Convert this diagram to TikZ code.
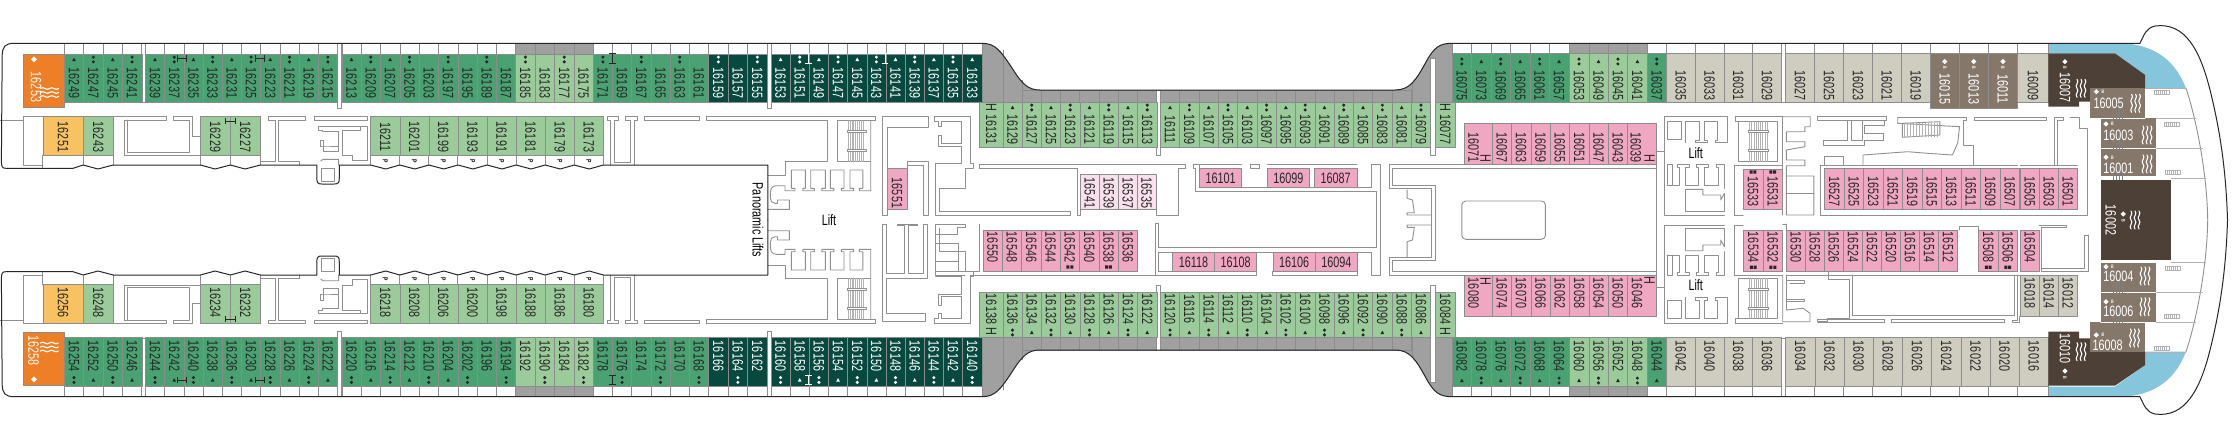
\documentclass[tikz,border=0pt]{standalone}
\usepackage{fontspec}
\setmainfont[FakeStretch=0.72]{Liberation Sans}
\usepackage{tikz}
\definecolor{grnM}{HTML}{4AA273}
\definecolor{grnL}{HTML}{9CCB9B}
\definecolor{tealD}{HTML}{07493F}
\definecolor{orng}{HTML}{EE7F26}
\definecolor{yelw}{HTML}{F8C262}
\definecolor{pinkC}{HTML}{F0A7C2}
\definecolor{pinkP}{HTML}{F8E0EC}
\definecolor{beigeC}{HTML}{CFCCC0}
\definecolor{brownB}{HTML}{85786B}
\definecolor{brownD}{HTML}{4C4037}
\definecolor{blueW}{HTML}{85C6DD}
\definecolor{deckG}{HTML}{A0A0A0}
\definecolor{wallG}{HTML}{8F8F8F}
\tikzset{
  hull/.style={draw=black!85,line width=1},
  wall/.style={draw=wallG,line width=0.9},
  thinwall/.style={draw=black!30,line width=0.35},
  cabin/.style={draw=black!45,line width=0.5},
  cabtxt/.style={rotate=-90,text=\mkcol,inner sep=0,font=\fontsize{15}{15}\selectfont},
  flattxt/.style={text=\mkcol,inner sep=0,font=\fontsize{15}{15}\selectfont},
  tagp/.style={rotate=-90,inner sep=0,font=\fontsize{7}{7}\selectfont\bfseries},
  liftlab/.style={inner sep=0,font=\fontsize{15}{15}\selectfont},
  spawave/.pic={\foreach \wv in {-4,0,4}{\draw[draw=white,line width=1.1] (\wv,-9) .. controls (\wv+3,-6) and (\wv-3,-3) .. (\wv,0) .. controls (\wv+3,3) and (\wv-3,6) .. (\wv,9);}}
}
\def\mkcol{black!85}
\newcommand{\tagn}[2]{}
\newcommand{\tagt}[2]{\fill[\mkcol] (#1-1.9,#2+1.6) -- (#1+1.9,#2+1.6) -- (#1,#2-1.9) -- cycle;}
\newcommand{\tagd}[2]{\fill[\mkcol] (#1,#2-2.4) circle (1.7) (#1,#2+2.4) circle (1.7);}
\newcommand{\tags}[2]{\fill[\mkcol] (#1-3.4,#2-1.6) rectangle (#1-0.4,#2+1.6) (#1+0.4,#2-1.6) rectangle (#1+3.4,#2+1.6);}
\newcommand{\tagh}[2]{\node[cabtxt] at (#1,#2) {H};}
\newcommand{\cabinrow}[8]{
  \foreach \lab/\mk [count=\i from 0] in {#8} {
    \pgfmathsetmacro{\xa}{#1+\i*#2}
    \pgfmathsetmacro{\xb}{\xa+#2}
    \pgfmathsetmacro{\xc}{\xa+#2/2}
    \path[cabin,#5] (\xa,#3) rectangle (\xb,#4);
    \node[cabtxt] (c\lab) at (\xc,#6) {\lab};
    \csname tag\mk\endcsname{\xc}{#7}
  }
}
\newcommand{\cabinflat}[5]{
  \path[cabin,fill=pinkC] (#1,#3) rectangle (#2,#4);
  \node[flattxt] (c#5) at ({(#1+#2)/2},{(#3+#4)/2}) {#5};
}
\newcommand{\cabinside}[7]{
  \path[cabin,fill=pinkC] (#1,#3) rectangle (#2,#4);
  \node[cabtxt] (c#7) at (#5,#6) {#7};
}
\newcommand{\deckstrip}[6]{
  \foreach \i in {1,...,#3} {
    \path[cabin,fill=#6] ({#1+(\i-1)*#2},#4) rectangle ({#1+\i*#2},#5);
  }
}
\newcommand{\stairhatch}[4]{
  \foreach \s in {0,...,8} {
    \draw[thinwall] ({#1+\s*(#2-#1)/8},#3) -- ({#1+\s*(#2-#1)/8},#4);
  }
}
\newcommand{\smallhatch}[2]{
  \draw[thinwall] (#1,#2) rectangle (#1+15,#2+4);
  \foreach \s in {1,...,6} {\draw[thinwall] (#1+\s*2.1,#2) -- (#1+\s*2.1,#2+4);}
}
\newcommand{\suitemark}[2]{
  \fill[white] (#1-2.6,#2) -- (#1,#2-2.6) -- (#1+2.6,#2) -- (#1,#2+2.6) -- cycle;
  \node[inner sep=0,text=white,font=\fontsize{5}{5}\selectfont\bfseries] at (#1+6.5,#2) {B};
}
\newcommand{\suitemarkv}[2]{
  \fill[white] (#1-2.6,#2) -- (#1,#2-2.6) -- (#1+2.6,#2) -- (#1,#2+2.6) -- cycle;
  \node[inner sep=0,rotate=-90,text=white,font=\fontsize{5}{5}\selectfont\bfseries] at (#1,#2+6.5) {B};
}
\newcommand{\elevroom}{
  \draw[wall] (934.3,116.7)--(970.7,116.7)--(970.7,163.3)--(973.2,163.3)--(973.2,168.3)--(965.4,168.3)--(965.4,188.3)--(939.3,188.3)--(939.3,211.7);
  \draw[wall] (934.3,116.7)--(934.3,121.7)--(938,121.7)--(938,126.7)--(941.4,126.7)--(941.4,121.7)--(961.8,121.7)--(961.8,143.3)--(941.4,143.3)--(941.4,135)--(938,135)--(938,146)--(961.8,146)--(961.8,163.3)--(935.7,163.3);
}
\newcommand{\halfdeck}{
  \fill[deckG] (981.8,43.3) .. controls (995,43.3) and (1000,50) .. (1012,68) .. controls (1022,84) and (1028,90) .. (1040,90) -- (1395,90) .. controls (1410,90) and (1416,80) .. (1426,62) .. controls (1434,47) and (1440,43.3) .. (1452,43.3) -- (1452,102.3) -- (979.6,102.3) -- cycle;
  \fill[blueW] (2048.4,43.3) -- (2125,43.3) .. controls (2155,46) and (2175,60) .. (2186,88.3) -- (2145.2,88.3) -- (2145.2,75) -- (2114.9,53.3) -- (2048.4,53.3) -- cycle;
  \deckstrip{64.3}{19.37}{4}{43.3}{54}{white}
  \deckstrip{145.4}{19.21}{10}{43.3}{54}{white}
  \deckstrip{341.8}{19.33}{9}{43.3}{54}{white}
  \deckstrip{515.7}{19.4}{4}{43.3}{54}{deckG}
  \deckstrip{593.3}{19.2}{6}{43.3}{54}{white}
  \deckstrip{708.6}{19.5}{3}{43.3}{54}{white}
  \deckstrip{771}{19.16}{11}{43.3}{54}{white}
  \deckstrip{1021.8}{19.24}{7}{90}{102.3}{deckG}
  \deckstrip{1160.4}{19.3}{13}{90}{102.3}{deckG}
  \deckstrip{1452.1}{19.45}{6}{43.3}{53.3}{white}
  \deckstrip{1569.3}{19.45}{4}{43.3}{53.3}{deckG}
  \deckstrip{1647.1}{19.3}{1}{43.3}{53.3}{white}
  \deckstrip{1666.4}{28.75}{4}{43.3}{53.3}{white}
  \deckstrip{1785.6}{28.92}{5}{43.3}{53.3}{white}
  \deckstrip{1930.2}{29.07}{3}{43.3}{53.3}{white}
  \deckstrip{2017.4}{31}{1}{43.3}{53.3}{white}
  \draw[cabin] (1002.9,50)--(1002.9,102.3) (1021.8,80)--(1021.8,90) (1411.8,83)--(1411.8,102.3);
  \path[wall,fill=white] (141.8,43.3) rectangle (145.4,102);
  \path[wall,fill=white] (337.5,43.3) rectangle (341.8,108.3);
  \path[wall,fill=white] (767.1,43.3) rectangle (771,108.3);
  \path[wall,fill=white] (1156.8,90) rectangle (1160.4,155);
  \path[wall,fill=white] (1430.7,58) rectangle (1435,155);
  \path[wall,fill=white] (1781.3,43.3) rectangle (1785.6,102);
  \draw[wall] (0,120)--(23.2,120);
  \draw[wall] (42.9,116.7)--(23.2,116.7)--(23.2,165)--(42.9,165);
  \draw[wall] (42.9,155)--(42.9,168.3) (83.2,155)--(83.2,165) (113.2,155)--(113.2,165);
  \draw[wall] (200.4,155)--(200.4,165) (230.4,155)--(230.4,165) (260.4,155)--(260.4,165);
  \foreach \i in {0,...,8} {\draw[wall] (370.7+\i*29.08,155)--(370.7+\i*29.08,165);}
  \draw[wall] (114.3,116.7)--(166,116.7)--(166,120)--(124.3,120)--(124.3,155)--(200.4,155);
  \draw[wall] (127.9,120)--(127.9,152.3)--(189.3,152.3)--(189.3,120)--(173.2,120)--(173.2,116.7)--(192.9,116.7)--(192.9,136.7)--(200.4,136.7);
  \draw[wall] (260.4,155)--(260.4,161.7)--(275,161.7)--(275,120)--(268.9,120)--(268.9,116.7)--(305.4,116.7)--(305.4,120)--(278.6,120)--(278.6,161.7)--(299.3,161.7)--(299.3,165);
  \draw[wall] (314.3,116.7) rectangle (367.9,120);
  \draw[wall] (377.1,116.7)--(377.1,126.7)--(370.7,126.7);
  \draw[wall] (318.9,126.7)--(360.7,126.7)--(360.7,130)--(342,130)--(342,155)--(352.9,155)--(352.9,160.7)--(367.9,160.7)--(367.9,126.7)--(360.7,126.7);
  \draw[wall] (318.9,126.7)--(318.9,130)--(322,130)--(322,131.7)--(338.6,131.7)--(338.6,151.7)--(323,151.7)--(323,140)--(320.7,140)--(320.7,146)--(323,146)--(338.6,146);
  \draw[wall] (320.7,161)--(323,159.3)--(338.6,159.3)--(338.6,165);
  \draw[wall] (321.4,168.3) rectangle (334.6,181.7);
  \draw[wall] (607.5,116.7)--(618.9,116.7)--(618.9,120)--(614,120)--(614,162.7)--(630.7,162.7)--(630.7,120)--(625.4,120)--(625.4,116.7)--(637.9,116.7)--(637.9,120)--(634.3,120)--(634.3,165);
  \draw[wall] (607.5,116.7)--(607.5,120)--(610,120)--(610,165);
  \draw[wall] (644.6,116.7) rectangle (699.3,120);
  \draw[wall] (706.4,116.7)--(875,116.7)--(875,120.7)--(837.5,120.7)--(837.5,161.7)--(870.7,161.7);
  \draw[wall] (706.4,116.7)--(706.4,120.7)--(827.9,120.7)--(827.9,161.7)--(785,161.7)--(785,175)--(767.9,175);
  \draw[wall] (870.7,120.7)--(870.7,190.7)--(859.3,190.7)--(859.3,188.3)--(862.9,188.3)--(862.9,170)--(850,170)--(850,188.3)--(853.6,188.3)--(853.6,190.7)--(841.4,190.7)--(841.4,188.3)--(844,188.3)--(844,170)--(830.4,170)--(830.4,188.3)--(833.9,188.3)--(833.9,190.7)--(821.8,190.7)--(821.8,188.3)--(825.4,188.3)--(825.4,170)--(810.7,170)--(810.7,188.3)--(814.3,188.3)--(814.3,190.7)--(802.9,190.7)--(802.9,188.3)--(805.4,188.3)--(805.4,170)--(791.4,170)--(791.4,188.3)--(795,188.3)--(795,190.7)--(785,190.7)--(785,185.7)--(776,185.7) .. controls (772,186) and (770.4,189) .. (770.4,193)--(770.4,198) .. controls (770.4,201) and (772,203.3) .. (775,203.3)--(777.5,203.3)--(777.5,200)--(789.3,200)--(789.3,209.3)--(767.9,209.3);
  \stairhatch{847.9}{863.2}{120.7}{161.7}
  \draw[wall,fill=white] (847,130.7) rectangle (866.8,132.5) (847,149.5) rectangle (866.8,151.3);
  \draw[wall] (1664.3,116.7)--(1664.3,215)--(1724.3,215);
  \draw[wall] (1664.3,116.7)--(1727.9,116.7)--(1727.9,142.7)--(1715.4,142.7)--(1715.4,140)--(1717.9,140)--(1717.9,121.7)--(1704.6,121.7)--(1704.6,140)--(1707.5,140)--(1707.5,142.7)--(1695.7,142.7)--(1695.7,140)--(1699.3,140)--(1699.3,121.7)--(1685,121.7)--(1685,142.7);
  \draw[wall] (1667.9,121.7) rectangle (1681.4,139.3);
  \draw[wall] (1667.1,185)--(1667.1,164.3)--(1672,164.3)--(1672,185);
  \draw[wall] (1667.1,185)--(1679.6,185)--(1679.6,167.3)--(1677,167.3)--(1677,164.3)--(1689.3,164.3)--(1689.3,167.3)--(1685.7,167.3)--(1685.7,185)--(1698.6,185)--(1698.6,167.3)--(1696.4,167.3)--(1696.4,164.3)--(1708.9,164.3)--(1708.9,167.3)--(1704.6,167.3)--(1704.6,185)--(1718.9,185)--(1718.9,167.3)--(1716.4,167.3)--(1716.4,164.3)--(1724.3,164.3)--(1724.3,188.3);
  \draw[wall] (1685.7,189.3)--(1702.9,189.3)--(1702.9,195)--(1720.7,195)--(1720.7,200)--(1724.3,193.3);
  \draw[wall] (1685.7,189.3)--(1685.7,211.7)--(1724.3,211.7)--(1724.3,193.3);
  \draw[wall] (1735,116.7)--(1782.7,116.7);
  \draw[wall] (1738.6,121.7)--(1777.9,121.7)--(1777.9,161.7)--(1738.6,161.7)--cycle;
  \draw[wall] (1735,116.7)--(1735,121.7)--(1738.6,121.7);
  \stairhatch{1749.3}{1767.1}{121.7}{161.7}
  \draw[wall,fill=white] (1748.2,130.7) rectangle (1768.2,132.5) (1748.2,149.5) rectangle (1768.2,151.3);
  \draw[wall] (1734.3,165)--(1782.5,165) (1734.3,165)--(1734.3,215)--(1743.2,215);
  \draw[wall] (2186,88.3) .. controls (2195,115) and (2207,170) .. (2207.7,220);
  \draw[thinwall] (2145.2,88.3)--(2186,88.3) (2155.9,118.3)--(2196,118.3) (2155.9,148.3)--(2202.5,148.3) (2171,178)--(2206,178);
  \smallhatch{2154}{90}
  \smallhatch{2164}{122}
  \smallhatch{2165}{170}
  \draw[hull] (14,43.3) .. controls (5,43.3) and (2.5,47) .. (2.2,55) -- (1.4,160) .. controls (1.4,167) and (2,168.3) .. (6,168.3) -- (73,168.3) -- (83.2,165) -- (98,169) -- (113.2,165) -- (200.4,165) -- (215,169) -- (230.4,165) -- (245,169) -- (260.4,165) -- (316.8,165) -- (316.8,178) .. controls (316.8,183) and (318,184) .. (322,184) -- (334,184) .. controls (338,184) and (339.3,183) .. (339.3,178) -- (339.3,165) -- (370.7,165) \foreach \i in {0,...,7} { -- (370.7+\i*29.08+15,169) -- (370.7+\i*29.08+29.08,165) } -- (767.9,165) -- (767.9,220);
  \draw[hull] (14,43.3) -- (981.8,43.3) .. controls (995,43.3) and (1000,50) .. (1012,68) .. controls (1022,84) and (1028,90) .. (1040,90) -- (1395,90) .. controls (1410,90) and (1416,80) .. (1426,62) .. controls (1434,47) and (1440,43.3) .. (1452,43.3) -- (2139.9,43.3) .. controls (2144,35) and (2146,28) .. (2155,26) .. controls (2185,22) and (2200,50) .. (2210,90) .. controls (2220,130) and (2226,170) .. (2227.5,220);
}
\begin{document}
\begin{tikzpicture}[line cap=round,line join=round,x=1pt,y=-1pt]
\useasboundingbox (0,0) rectangle (2232,440);
\fill[white] (0,0) rectangle (2232,440);
\halfdeck
\begin{scope}[shift={(0,440)},yscale=-1]
\halfdeck
\elevroom
\end{scope}
\elevroom
\draw[wall] (939.3,211.7)--(1070,211.7)--(1070,215.7)--(935.7,215.7)--(935.7,163.3);
\draw[wall] (882.9,116.7)--(928.2,116.7)--(928.2,127.3)--(887.1,127.3)--(887.1,168.3);
\draw[wall] (882.9,116.7)--(882.9,215)--(887.1,215)--(887.1,209.3);
\draw[wall] (907.1,168.3)--(907.1,161.7)--(928.2,161.7)--(928.2,215)--(923.9,215)--(923.9,165)--(907.1,165);
\draw[wall] (882.5,224)--(886.8,224)--(886.8,273.3)--(904.6,273.3)--(904.6,225)--(897.5,225)--(897.5,224)--(917.1,224)--(917.1,225)--(908.2,225)--(908.2,273.3)--(923,273.3)--(923,224)--(927.9,224)--(927.9,278.3)--(886.8,278.3)--(886.8,313.3)--(925,313.3)--(925,321.7)--(882.5,321.7)--cycle;
\draw[wall] (935.7,224.3)--(965,224.3)--(965,227.3)--(957.9,227.3)--(957.9,234)--(935.7,234);
\draw[wall] (935.7,224.3)--(935.7,275)--(965,275);
\draw[wall] (935.7,243.3)--(958.6,243.3)--(958.6,271.7);
\draw[wall] (958.6,261.7)--(935.7,261.7);
\draw[wall] (979.3,224.3)--(979.3,271.7)--(935.7,271.7);
\draw[wall] (970.4,275)--(1155.4,275);
\draw[wall] (979.3,164.3)--(1185.7,164.3)--(1185.7,168.3)--(1178.6,168.3)--(1178.6,215)--(1156,215)--(1156,209.3);
\draw[wall] (979.3,164.3)--(979.3,168.3)--(1077.9,168.3)--(1077.9,215)--(1080.4,215)--(1080.4,209.3);
\draw[wall] (1193.2,164.3)--(1199.6,164.3)--(1199.6,168.3);
\draw[wall] (1193.2,164.3)--(1193.2,168.3)--(1195.7,168.3)--(1195.7,191)--(1376.8,191)--(1376.8,247.7)--(1158.9,247.7)--(1158.9,223.3)--(1155.4,223.3)--(1155.4,275);
\draw[wall] (1158.9,252.3)--(1371.4,252.3)--(1371.4,275)--(1380.4,275)--(1380.4,164.3)--(1371.4,164.3)--(1371.4,187.3)--(1199.6,187.3);
\draw[wall] (1199.6,164.3)--(1241.4,164.3) (1267.5,164.3)--(1356.8,164.3);
\draw[wall] (1250.4,164.3) rectangle (1259.3,168.3);
\draw[wall] (1158.9,252.3)--(1158.9,271.7)--(1256.4,271.7)--(1256.4,275)--(1155.4,275);
\draw[wall] (1272.9,275)--(1272.9,271.7)--(1357.1,271.7)--(1357.1,275)--cycle;
\draw[wall] (1464.3,164.3)--(1389.3,164.3)--(1389.3,188.3)--(1431.4,188.3)--(1431.4,257.3)--(1389.3,257.3)--(1389.3,275)--(1464.3,275);
\draw[wall] (1392.9,168.3)--(1656.4,168.3)--(1656.4,271.7)--(1392.9,271.7)--(1392.9,260.7)--(1435.7,260.7)--(1435.7,185)--(1392.9,185)--cycle;
\draw[wall] (1656.1,164.3)--(1656.1,168.3) (1656.1,271.7)--(1656.1,275.7);
\draw[wall] (1431.4,215)--(1407.1,215)--(1407.1,212.7)--(1414.3,212.7)--(1412.5,200)--(1407.1,198.3)--(1407.1,190);
\draw[wall] (1431.4,225)--(1407.1,225)--(1407.1,227.3)--(1414.3,227.3)--(1412.5,240)--(1407.1,241.7)--(1407.1,256.7);
\draw[wall,rounded corners=4] (1461.8,201) rectangle (1545.4,239.3);
\draw[wall] (1656.1,151.7)--(1664.6,151.7) (1656.1,287.7)--(1664.6,287.7);
\draw[wall] (1782.7,116.7)--(1810.2,116.7)--(1810.2,126.7)--(1804.9,126.7)--(1804.9,131.7)--(1786.3,131.7)--(1786.3,141.7)--(1804.9,141.7)--(1804.9,146.7)--(1786.3,150)--(1786.3,160)--(1804.9,160)--(1804.9,165.7)--(1786.3,165.7)--(1786.3,176)--(1813.8,176)--(1813.8,215)--(1786.3,215)--(1786.3,176);
\draw[wall] (1782.7,116.7)--(1782.7,215) (1786.3,193.3)--(1813.8,193.3);
\draw[wall] (1817.7,116.7)--(1886.3,116.7)--(1886.3,120.7)--(1817.7,120.7)--cycle;
\draw[wall] (1847.7,120.7)--(1847.7,140)--(1823.8,140)--(1823.8,145)--(1864.9,145)--(1864.9,140)--(1883.4,140)--(1883.4,133.3)--(1864.9,133.3)--(1864.9,125)--(1884.5,125)--(1884.5,120.7);
\draw[wall] (1851.3,120.7) rectangle (1862,140);
\draw[wall] (1897.7,117.7)--(1966.6,117.7)--(1966.6,120)--(1963,120)--(1963,145)--(1973,145)--(1973,165.7);
\draw[wall] (1897.7,117.7)--(1897.7,123.3)--(1959.5,126.7)--(1957.7,143)--(1952.4,155)--(1927.4,153.3)--(1907.7,151.7)--(1863,155)--(1863,165.7);
\draw[wall] (1902.4,123.3)--(1939.9,121.7)--(1939.9,135)--(1902.4,137.3)--cycle;
\foreach \s in {0,...,11} {\draw[thinwall] (1904+\s*3,123)--(1904+\s*3,137);}
\draw[wall] (1824.5,165.7)--(1824.5,156)--(1843.4,156)--(1843.4,165.7);
\draw[wall] (1974.5,117.7) rectangle (2046.3,120);
\draw[wall] (2054.1,117.7)--(2063.8,117.7)--(2063.8,120)--(2057.7,120)--(2057.7,165.7)--(2054.1,165.7)--cycle;
\draw[wall] (2070.2,117.7)--(2079.1,117.7)--(2079.1,128.3)--(2087,128.3)--(2087,215)--(2079.1,215);
\draw[wall] (1820.2,165.7)--(2017.4,165.7) (2020.2,165.7)--(2077.4,165.7);
\draw[wall] (1820.2,165.7)--(1820.2,215)--(2079.1,215);
\draw[wall] (1786.3,224)--(1786.3,271.7) (1782.7,224)--(1786.3,224);
\draw[wall] (1959.5,226.7)--(1978.4,226.7)--(1978.4,230);
\draw[wall] (1959.5,226.7)--(1959.5,230);
\draw[wall] (2039.1,225)--(2066.6,225)--(2066.6,227.3)--(2041.6,227.3)--(2041.6,271.7)--(2084.5,271.7);
\draw[wall] (2088,235)--(2084.5,235)--(2084.5,268.3)--(2041.6,268.3) (2088,235)--(2088,271.7)--(2084.5,271.7);
\draw[wall] (1786.3,275)--(2077.4,275);
\draw[wall] (1782.7,275)--(1782.7,321.7)--(1810,321.7)--(1810,313.3)--(1803,308.3)--(1786.3,310);
\draw[wall] (1786.3,275)--(1786.3,310);
\draw[wall] (1786.3,280)--(1804,280)--(1804,283)--(1790,283);
\draw[wall] (1786.3,299)--(1804,299)--(1804,301)--(1786.3,301);
\draw[wall] (1828,271.7)--(1828,279.3)--(1849.5,279.3)--(1849.5,318.3)--(1827.4,318.3)--(1827.4,321)--(1817.7,321)--(1817.7,319.3)--(1884.5,319.3)--(1884.5,322)--(1817.7,322);
\draw[wall] (1852.4,275)--(1852.4,315)--(2014.1,315)--(2014.1,275);
\draw[wall] (1891.6,319.3) rectangle (2004.9,322);
\draw[wall] (2017.4,275)--(2017.4,320)--(2012,320)--(2012,322.7)--(2019,322.7)--(2019,316.7);
\begin{scope}[every node/.append style={text=black!85}]
\path[cabin,fill=orng] (23.2,54) rectangle (64.3,107);
\path[cabin,fill=orng] (23.2,332.3) rectangle (64.3,385.3);
\node[rotate=-90,inner sep=0,text=white,font=\fontsize{15}{15}\selectfont] (c16253) at (36,87) {16253};
\node[rotate=-90,inner sep=0,text=white,font=\fontsize{15}{15}\selectfont] (c16258) at (33.6,350.5) {16258};
\pic[rotate=90] at (49.6,92.5) {spawave};
\pic[rotate=90] at (49.3,347) {spawave};
\fill[white] (31,59.3) -- (34,56.3) -- (37,59.3) -- (34,62.3) -- cycle;
\fill[white] (31,379.3) -- (34,376.3) -- (37,379.3) -- (34,382.3) -- cycle;
\end{scope}
\cabinrow{64.3}{19.37}{54}{102.3}{fill=grnM}{83}{59.5}{16249/t,16247/d,16245/t,16241/d}
\cabinrow{145.4}{19.21}{54}{102.3}{fill=grnM}{83}{59.5}{16239/t,16237/d,16235/t,16233/d,16231/t,16225/d,16223/t,16221/d,16219/t,16215/d}
\cabinrow{341.8}{19.33}{54}{102.3}{fill=grnM}{83}{59.5}{16213/t,16209/d,16207/t,16205/d,16203/n,16197/d,16195/n,16189/d,16187/n}
\cabinrow{515.7}{19.4}{54}{102.3}{fill=grnL}{83}{59.5}{16185/d,16183/n,16177/d,16175/n}
\cabinrow{593.3}{19.2}{54}{102.3}{fill=grnM}{83}{59.5}{16171/d,16169/n,16167/d,16165/n,16163/d,16161/n}
{\def\mkcol{white}
\cabinrow{708.6}{19.5}{54}{102.3}{fill=tealD}{83}{59.5}{16159/d,16157/n,16155/d}
\cabinrow{771}{19.16}{54}{102.3}{fill=tealD}{83}{59.5}{16153/t,16151/d,16149/t,16147/d,16145/t,16143/d,16141/t,16139/d,16137/t,16135/d,16133/t}
}
\cabinrow{64.3}{19.37}{337}{386}{fill=grnM}{356}{380}{16254/d,16252/t,16250/d,16246/t}
\cabinrow{145.4}{19.21}{337}{386}{fill=grnM}{356}{380}{16244/d,16242/t,16240/d,16238/t,16236/d,16230/t,16228/d,16226/t,16224/d,16222/t}
\cabinrow{341.8}{19.33}{337}{386}{fill=grnM}{356}{380}{16220/d,16216/t,16214/d,16212/t,16210/d,16204/t,16202/d,16196/n,16194/d}
\cabinrow{515.7}{19.4}{337}{386}{fill=grnL}{356}{380}{16192/n,16190/d,16184/n,16182/d}
\cabinrow{593.3}{19.2}{337}{386}{fill=grnM}{356}{380}{16178/n,16176/d,16174/n,16172/d,16170/n,16168/d}
{\def\mkcol{white}
\cabinrow{708.6}{19.5}{337}{386}{fill=tealD}{356}{380}{16166/n,16164/d,16162/n}
\cabinrow{771}{19.16}{337}{386}{fill=tealD}{356}{380}{16160/d,16158/t,16156/d,16154/t,16152/d,16150/t,16148/d,16146/t,16144/d,16142/t,16140/d}
}
\cabinrow{979.6}{23.3}{102.3}{147.3}{fill=grnL}{129.5}{107.5}{16131/h}
\cabinrow{1002.9}{19.24}{102.3}{147.3}{fill=grnL}{129.5}{107.5}{16129/t,16127/d,16125/t,16123/d,16121/t,16119/d,16115/t,16113/d}
\cabinrow{1160.4}{19.3}{102.3}{147.3}{fill=grnL}{129.5}{107.5}{16111/t,16109/d,16107/t,16105/d,16103/t,16097/d,16095/t,16093/d,16091/t,16089/d,16085/t,16083/d,16081/t,16079/d}
\cabinrow{1435}{20.7}{102.3}{147.3}{fill=grnL}{129.5}{107.5}{16077/h}
\cabinrow{979.6}{23.3}{292.7}{337.7}{fill=grnL}{309}{331.5}{16138/h}
\cabinrow{1002.9}{19.24}{292.7}{337.7}{fill=grnL}{309}{332.5}{16136/d,16134/t,16132/d,16130/t,16128/d,16126/t,16124/d,16122/t}
\cabinrow{1160.4}{19.3}{292.7}{337.7}{fill=grnL}{309}{332.5}{16120/d,16116/t,16114/d,16112/t,16110/d,16104/t,16102/d,16100/t,16098/d,16096/t,16092/d,16090/t,16088/d,16086/t}
\cabinrow{1435}{20.7}{292.7}{337.7}{fill=grnL}{309}{331.5}{16084/h}
\cabinrow{1452.1}{19.45}{53.3}{102.3}{fill=grnM}{85.8}{61.5}{16075/d,16073/t,16069/d,16065/t,16061/d,16057/t}
\cabinrow{1569.3}{19.45}{53.3}{102.3}{fill=grnL}{85.8}{61.5}{16053/d,16049/t,16045/d,16041/t}
\cabinrow{1647.1}{19.3}{53.3}{102.3}{fill=grnM}{85.8}{61.5}{16037/d}
\cabinrow{1666.4}{28.75}{53.3}{102.3}{fill=beigeC}{85.8}{60}{16035/n,16033/n,16031/n,16029/n}
\cabinrow{1785.6}{28.92}{53.3}{102.3}{fill=beigeC}{85.8}{60}{16027/n,16025/n,16023/n,16021/n,16019/n}
\cabinrow{2017.4}{31}{53.3}{102.3}{fill=beigeC}{85.8}{60}{16009/n}
{\def\mkcol{white}
\cabinrow{1930.2}{29.07}{53.3}{108}{fill=brownB}{89}{60}{16015/n,16013/n,16011/n}
}
\foreach \x in {1944.7,1973.8,2002.9} {\suitemarkv{\x}{61.5}}
\cabinrow{1452.1}{19.45}{337}{386}{fill=grnM}{356}{380.5}{16082/t,16078/d,16076/t,16072/d,16068/t,16064/d}
\cabinrow{1569.3}{19.45}{337}{386}{fill=grnL}{356}{380.5}{16060/t,16056/d,16052/t,16048/d}
\cabinrow{1647.1}{19.3}{337}{386}{fill=grnM}{356}{380.5}{16044/t}
\cabinrow{1666.4}{28.75}{337}{386}{fill=beigeC}{356}{380}{16042/n,16040/n,16038/n,16036/n}
\cabinrow{1785.6}{29.2}{337}{386}{fill=beigeC}{356}{380}{16034/n,16032/n,16030/n,16028/n,16026/n,16024/n,16022/n,16020/n,16016/n}
\cabinrow{42.9}{40.3}{116.7}{155}{fill=yelw}{137}{0}{16251/n}
\cabinrow{83.2}{30}{116.7}{155}{fill=grnL}{137}{0}{16243/n}
\cabinrow{200.4}{30}{116.7}{155}{fill=grnL}{137}{0}{16229/n,16227/n}
\cabinrow{370.7}{29.08}{116.7}{155}{fill=grnL}{137}{0}{16211/n,16201/n,16199/n,16193/n,16191/n,16181/n,16179/n,16173/n}
\cabinrow{42.9}{40.3}{284.3}{323.3}{fill=yelw}{302.5}{0}{16256/n}
\cabinrow{83.2}{30}{284.3}{323.3}{fill=grnL}{302.5}{0}{16248/n}
\cabinrow{200.4}{30}{284.3}{323.3}{fill=grnL}{302.5}{0}{16234/n,16232/n}
\cabinrow{370.7}{29.08}{284.3}{323.3}{fill=grnL}{302.5}{0}{16218/n,16208/n,16206/n,16200/n,16198/n,16188/n,16186/n,16180/n}
\foreach \x in {385.2,414.3,443.4,472.5,501.6,530.6,559.7,588.8} {
  \node[tagp] at (\x,161) {P};
  \node[tagp] at (\x,279) {P};
}
\cabinrow{887.1}{20}{168.3}{209.3}{fill=pinkC}{193}{0}{16551/n}
\cabinrow{1080.4}{18.9}{174}{209.3}{fill=pinkP}{193}{0}{16541/n,16539/n,16537/n,16535/n}
\cabinrow{982.9}{19.33}{230.7}{271.7}{fill=pinkC}{247}{267}{16550/n,16548/n,16546/n,16544/n,16542/s,16540/n,16538/s,16536/n}
\cabinflat{1199.6}{1241.4}{168.3}{187.7}{16101}
\cabinflat{1267.5}{1309.3}{168.3}{187.7}{16099}
\cabinflat{1314.6}{1356.8}{168.3}{187.7}{16087}
\cabinflat{1172.5}{1214.6}{252.3}{271.7}{16118}
\cabinflat{1214.6}{1256.4}{252.3}{271.7}{16108}
\cabinflat{1272.9}{1315.4}{252.3}{271.7}{16106}
\cabinflat{1315.4}{1357.1}{252.3}{271.7}{16094}
\cabinside{1464.6}{1492.1}{123.3}{164.3}{1473.4}{147.5}{16071}
\cabinrow{1492.1}{19.35}{123.3}{164.3}{fill=pinkC}{147.5}{0}{16067/n,16063/n,16059/n,16055/n,16051/n,16047/n,16043/n}
\cabinside{1627.5}{1656.1}{123.3}{164.3}{1635.8}{147.5}{16039}
\cabinside{1464.6}{1492.1}{275.7}{316.7}{1473.4}{293}{16080}
\cabinrow{1492.1}{19.35}{275.7}{316.7}{fill=pinkC}{293}{0}{16074/n,16070/n,16066/n,16062/n,16058/n,16054/n,16050/n}
\cabinside{1627.5}{1656.1}{275.7}{316.7}{1637}{293}{16046}
\tagh{1485.5}{158}
\tagh{1649.6}{158}
\tagh{1485.5}{281.7}
\tagh{1649.6}{280.3}
\cabinrow{1743.2}{19.65}{169}{209.3}{fill=pinkC}{191.5}{172}{16533/s,16531/s}
\cabinrow{1824.5}{19.5}{168.3}{209.3}{fill=pinkC}{191.5}{0}{16527/n,16525/n,16523/n,16521/n,16519/n,16515/n,16513/n,16511/n,16509/n,16507/n}
\cabinrow{2020.2}{19.07}{168.3}{209.3}{fill=pinkC}{191.5}{0}{16505/n,16503/n,16501/n}
\cabinrow{1743.4}{19.65}{230}{271.7}{fill=pinkC}{247}{267.3}{16534/s,16532/s}
\cabinrow{1786.3}{19.03}{230}{271.7}{fill=pinkC}{247}{0}{16530/n,16528/n,16526/n,16524/n,16522/n,16520/n,16516/n,16514/n,16512/n}
\cabinrow{1978.4}{19.5}{230}{271.7}{fill=pinkC}{247}{267.3}{16508/s,16506/s}
\cabinrow{2020.2}{18.9}{230}{271.7}{fill=pinkC}{247}{0}{16504/n}
\cabinrow{2020.2}{19.07}{275.7}{316.7}{fill=beigeC}{293}{0}{16018/n,16014/n,16012/n}
\path[fill=brownD] (2048.4,53.3) -- (2114.9,53.3) -- (2145.2,75) -- (2145.2,88.3) -- (2089.9,88.3) -- (2089.9,101.7) -- (2079.1,101.7) -- (2079.1,106.7) -- (2048.4,106.7) -- cycle;
\path[fill=brownD] (2048.4,331.7) -- (2079.1,331.7) -- (2079.1,338.3) -- (2089.9,338.3) -- (2089.9,351.7) -- (2145.2,351.7) -- (2145.2,365) -- (2114.9,385.7) -- (2048.4,385.7) -- cycle;
\path[fill=brownB] (2089.9,88.3) rectangle (2145.2,118.3);
\path[fill=brownB] (2100.6,118.3) rectangle (2155.9,148.3);
\path[fill=brownB] (2100.6,148.3) rectangle (2155.9,176);
\path[fill=brownD] (2100.6,180) rectangle (2171,260);
\path[fill=brownB] (2100.6,263.3) rectangle (2155.9,291.7);
\path[fill=brownB] (2100.6,291.7) rectangle (2155.9,321.7);
\path[fill=brownB] (2089.9,321.7) rectangle (2145.2,351.7);
\draw[draw=white,line width=0.4] (2100.6,118.3)--(2145.2,118.3) (2100.6,148.3)--(2155.9,148.3) (2100.6,291.7)--(2155.9,291.7) (2100.6,321.7)--(2145.2,321.7);
\foreach \yy in {112,142,172,285,315} {
  \foreach \s in {0,...,3} {\draw[draw=black!50,line width=0.4] (2113+\s*3,\yy-3)--(2113+\s*3,\yy+8);}
}
{\def\mkcol{white}
\node[cabtxt] (c16007) at (2064.9,87.5) {16007};
\node[cabtxt] (c16010) at (2064.9,348.3) {16010};
\node[cabtxt] (c16002) at (2110.7,220) {16002};
\node[flattxt] (c16005) at (2108.5,103.3) {16005};
\node[flattxt] (c16003) at (2118.4,135) {16003};
\node[flattxt] (c16001) at (2118.4,168.3) {16001};
\node[flattxt] (c16004) at (2118.4,276.7) {16004};
\node[flattxt] (c16006) at (2118.4,311.7) {16006};
\node[flattxt] (c16008) at (2107.7,345) {16008};
}
\pic at (2081,88.3) {spawave};
\pic at (2081,351.7) {spawave};
\pic at (2135.6,103.3) {spawave};
\pic at (2147,135) {spawave};
\pic at (2147,164) {spawave};
\pic at (2135,220) {spawave};
\pic at (2145,276) {spawave};
\pic at (2145,306.7) {spawave};
\pic at (2134.5,338) {spawave};
\suitemarkv{2064.9}{61.7}
\suitemarkv{2123.2}{214}
\suitemark{2096.3}{91.7}
\suitemark{2106}{124}
\suitemark{2106}{157.3}
\suitemark{2106}{266.7}
\suitemark{2106}{301.7}
\suitemark{2096.3}{335}
\suitemarkv{2064.9}{371}
\foreach \xx/\yy in {182/58.3,260/58.3,182/380,260/380} {
  \draw[|-|,line width=0.7,black!85] (\xx-5,\yy) -- (\xx+5,\yy);
}
\foreach \xx/\yy in {230.3/121,230.3/319} {
  \draw[|-|,line width=0.7,black!85] (\xx-5,\yy) -- (\xx+5,\yy);
}
\foreach \xx/\yy in {612.5/58.3,808.2/58.3,885/58.3,612.5/380,808.2/380} {
  \draw[|-|,line width=0.7,\ifdim\xx pt>700pt white\else black!85\fi] (\xx,\yy-5) -- (\xx,\yy+5);
}
\node[liftlab,rotate=-90] (panlifts) at (757.9,220) {Panoramic Lifts};
\node[liftlab] (lift1) at (829,220) {Lift};
\node[liftlab] (lift2) at (1695.7,153.3) {Lift};
\node[liftlab] (lift3) at (1695.7,285) {Lift};
\end{tikzpicture}
\end{document}
